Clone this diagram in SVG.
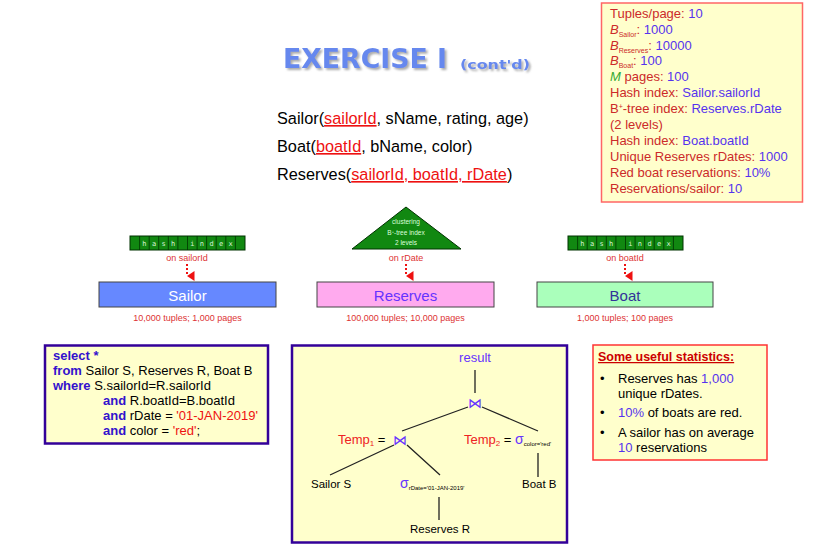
<svg xmlns="http://www.w3.org/2000/svg" width="820" height="551" viewBox="0 0 820 551">
<style>
text{font-family:"Liberation Sans",Arial,sans-serif}
.r{fill:#cc2a2a}
.b{fill:#5533ee}
.k{fill:#000}
.kw{fill:#3311cc;font-weight:bold}
.str{fill:#ee1111}
.cap{font-size:9px;fill:#dd3333;text-anchor:middle}
.hl{font-family:"DejaVu Sans Mono",monospace;font-size:7px;fill:#d8f0d8;text-anchor:middle}
.cell{stroke:#003300;stroke-width:0.8}
.tree{stroke:#222;stroke-width:1.3;fill:none}
.dot{stroke:#ee1111;stroke-width:2;stroke-dasharray:2 2;fill:none}
.box{fill:#ffffcc}
.ttl{font-family:"DejaVu Sans",sans-serif;font-weight:bold;fill:#6688ee;filter:url(#sh)}
</style>
<defs>
<marker id="ah" markerUnits="userSpaceOnUse" markerWidth="10" markerHeight="8" refX="4" refY="6" orient="auto-start-reverse" viewBox="0 0 8 6"><path d="M0,0 L8,0 L4,6 z" fill="#ee1111"/></marker>
<filter id="sh" x="-10%" y="-20%" width="130%" height="160%"><feDropShadow dx="2" dy="2" stdDeviation="0.8" flood-color="#888" flood-opacity="0.7"/></filter>
</defs>

<g id="title">
<text class="ttl" x="283" y="68" font-size="26" textLength="164" lengthAdjust="spacingAndGlyphs">EXERCISE I</text>
<text class="ttl" x="460" y="69" font-size="13" textLength="70" lengthAdjust="spacingAndGlyphs">(cont'd)</text>
</g>

<g id="schema" font-size="16.3">
<text x="277" y="124" class="k">Sailor(<tspan fill="#ee1111" text-decoration="underline">sailorId</tspan>, sName, rating, age)</text>
<text x="277" y="152" class="k">Boat(<tspan fill="#ee1111" text-decoration="underline">boatId</tspan>, bName, color)</text>
<text x="277" y="180" class="k">Reserves(<tspan fill="#ee1111" text-decoration="underline">sailorId, boatId, rDate</tspan>)</text>
</g>

<g id="params">
<rect x="601.5" y="3" width="201" height="199" fill="#ffffcc" stroke="#ff6666" stroke-width="1.5"/>
<g font-size="13">
<text x="610" y="18"><tspan class="r">Tuples/page: </tspan><tspan class="b">10</tspan></text>
<text x="610" y="34"><tspan class="r" font-style="italic">B</tspan><tspan class="r" font-size="7" dy="3">Sailor</tspan><tspan class="r" dy="-3">: </tspan><tspan class="b">1000</tspan></text>
<text x="610" y="49.5"><tspan class="r" font-style="italic">B</tspan><tspan class="r" font-size="7" dy="3">Reserves</tspan><tspan class="r" dy="-3">: </tspan><tspan class="b">10000</tspan></text>
<text x="610" y="65"><tspan class="r" font-style="italic">B</tspan><tspan class="r" font-size="7" dy="3">Boat</tspan><tspan class="r" dy="-3">: </tspan><tspan class="b">100</tspan></text>
<text x="610" y="81"><tspan fill="#33aa33" font-style="italic">M</tspan><tspan class="r"> pages: </tspan><tspan class="b">100</tspan></text>
<text x="610" y="97"><tspan class="r">Hash index: </tspan><tspan class="b">Sailor.sailorId</tspan></text>
<text x="610" y="113"><tspan class="r">B</tspan><tspan class="r" font-size="7" dy="-4">+</tspan><tspan class="r" dy="4">-tree index: </tspan><tspan class="b">Reserves.rDate</tspan></text>
<text x="610" y="129" class="r">(2 levels)</text>
<text x="610" y="145"><tspan class="r">Hash index: </tspan><tspan class="b">Boat.boatId</tspan></text>
<text x="610" y="161"><tspan class="r">Unique Reserves rDates: </tspan><tspan class="b">1000</tspan></text>
<text x="610" y="177"><tspan class="r">Red boat reservations: </tspan><tspan class="b">10%</tspan></text>
<text x="610" y="193"><tspan class="r">Reservations/sailor: </tspan><tspan class="b">10</tspan></text>
</g>
</g>

<g id="hash-sailor">
<rect x="130" y="236" width="115" height="14" fill="#118811" stroke="#003300" stroke-width="1"/>
<path class="cell" d="M139.6,236v14M149.2,236v14M158.7,236v14M168.3,236v14M177.9,236v14M187.5,236v14M197.1,236v14M206.6,236v14M216.2,236v14M225.8,236v14M235.4,236v14"/>
<text class="hl" y="246"><tspan x="144.4">h</tspan><tspan x="154">a</tspan><tspan x="163.5">s</tspan><tspan x="173.1">h</tspan><tspan x="192.3">i</tspan><tspan x="201.9">n</tspan><tspan x="211.5">d</tspan><tspan x="221">e</tspan><tspan x="230.6">x</tspan></text>
<text class="cap" x="187" y="261">on sailorId</text>
</g>

<g id="btree-reserves">
<polygon points="406,207 352,249 461,249" fill="#118811" stroke="#003300" stroke-width="1"/>
<text x="406" y="224" font-size="6.5" fill="#ddffdd" text-anchor="middle">clustering</text>
<text x="406" y="235" font-size="6.5" fill="#ddffdd" text-anchor="middle">B<tspan font-size="4" dy="-2">+</tspan><tspan dy="2">-tree index</tspan></text>
<text x="406" y="245" font-size="6.5" fill="#ddffdd" text-anchor="middle">2 levels</text>
<text class="cap" x="406" y="261">on rDate</text>
</g>

<g id="hash-boat">
<rect x="568" y="236" width="115" height="14" fill="#118811" stroke="#003300" stroke-width="1"/>
<path class="cell" d="M577.6,236v14M587.2,236v14M596.7,236v14M606.3,236v14M615.9,236v14M625.5,236v14M635.1,236v14M644.6,236v14M654.2,236v14M663.8,236v14M673.4,236v14"/>
<text class="hl" y="246"><tspan x="582.4">h</tspan><tspan x="592">a</tspan><tspan x="601.5">s</tspan><tspan x="611.1">h</tspan><tspan x="630.3">i</tspan><tspan x="639.9">n</tspan><tspan x="649.5">d</tspan><tspan x="659">e</tspan><tspan x="668.6">x</tspan></text>
<text class="cap" x="625" y="261">on boatId</text>
</g>

<g id="connectors">
<line class="dot" x1="187" y1="264" x2="187" y2="276" marker-end="url(#ah)"/>
<line class="dot" x1="406" y1="264" x2="406" y2="276" marker-end="url(#ah)"/>
<line class="dot" x1="625" y1="264" x2="625" y2="276" marker-end="url(#ah)"/>
</g>

<g id="sailor">
<rect x="99" y="282" width="177" height="25" fill="#6688ff" stroke="#444" stroke-width="1"/>
<text x="187.5" y="301" font-size="15" fill="#fff" text-anchor="middle">Sailor</text>
<text class="cap" x="187.5" y="321">10,000 tuples; 1,000 pages</text>
</g>

<g id="reserves">
<rect x="317" y="282" width="177" height="25" fill="#ffaaee" stroke="#444" stroke-width="1"/>
<text x="405.5" y="301" font-size="15" fill="#6633ff" text-anchor="middle">Reserves</text>
<text class="cap" x="405.5" y="321">100,000 tuples; 10,000 pages</text>
</g>

<g id="boat">
<rect x="537" y="282" width="176" height="25" fill="#aaffbb" stroke="#444" stroke-width="1"/>
<text x="625" y="301" font-size="15" fill="#333399" text-anchor="middle">Boat</text>
<text class="cap" x="625" y="321">1,000 tuples; 100 pages</text>
</g>

<g id="sql">
<rect x="45" y="345.5" width="223" height="98" class="box" stroke="#330099" stroke-width="2.5"/>
<g font-size="13" fill="#000">
<text x="53" y="360"><tspan class="kw">select *</tspan></text>
<text x="53" y="375"><tspan class="kw">from</tspan> Sailor S, Reserves R, Boat B</text>
<text x="53" y="390"><tspan class="kw">where</tspan> S.sailorId=R.sailorId</text>
<text x="103" y="405"><tspan class="kw">and</tspan> R.boatId=B.boatId</text>
<text x="103" y="420"><tspan class="kw">and</tspan> rDate = <tspan class="str">'01-JAN-2019'</tspan></text>
<text x="103" y="435"><tspan class="kw">and</tspan> color = <tspan class="str">'red'</tspan>;</text>
</g>
</g>

<g id="plan">
<rect x="292" y="345.5" width="275" height="197" class="box" stroke="#330099" stroke-width="2.5"/>
<text x="475" y="362" font-size="13" fill="#6633ff" text-anchor="middle">result</text>
<text x="475" y="408" font-size="14" font-family="DejaVu Sans" fill="#6633ff" text-anchor="middle">⋈</text>
<text x="338" y="444" font-size="13"><tspan fill="#ee2222">Temp</tspan><tspan fill="#ee2222" font-size="8" dy="2">1</tspan><tspan dy="-2" fill="#000"> = </tspan></text>
<text x="400" y="445" font-size="14" font-family="DejaVu Sans" fill="#6633ff" text-anchor="middle">⋈</text>
<text x="464" y="444" font-size="13"><tspan fill="#ee2222">Temp</tspan><tspan fill="#ee2222" font-size="8" dy="2">2</tspan><tspan dy="-2" fill="#000"> = </tspan><tspan fill="#6633ff" font-size="14">σ</tspan><tspan font-size="6" dy="2" fill="#000">color='red'</tspan></text>
<text x="311" y="488" font-size="11.5" fill="#000">Sailor S</text>
<text x="400" y="488" font-size="14"><tspan fill="#6633ff">σ</tspan><tspan font-size="6" dy="2" fill="#000">rDate='01-JAN-2019'</tspan></text>
<text x="522" y="488" font-size="11.5" fill="#000">Boat B</text>
<text x="410" y="533" font-size="11.5" fill="#000">Reserves R</text>
<path class="tree" d="M475,370V393M468,407L402,431M482,407L538,431M394,445L330,475M407,445L440,475M439,497V520M538,453V477"/>
</g>

<g id="stats">
<rect x="593" y="345" width="174" height="115" class="box" stroke="#ff3333" stroke-width="1.5"/>
<text x="598" y="361" font-size="12.5" font-weight="bold" fill="#cc0000" text-decoration="underline">Some useful statistics:</text>
<g font-size="13" fill="#000">
<text x="600" y="383">•</text>
<text x="618" y="383">Reserves has <tspan class="b">1,000</tspan></text>
<text x="618" y="398">unique rDates.</text>
<text x="600" y="417">•</text>
<text x="618" y="417"><tspan class="b">10%</tspan> of boats are red.</text>
<text x="600" y="437">•</text>
<text x="618" y="437">A sailor has on average</text>
<text x="618" y="452"><tspan class="b">10</tspan> reservations</text>
</g>
</g>
</svg>
